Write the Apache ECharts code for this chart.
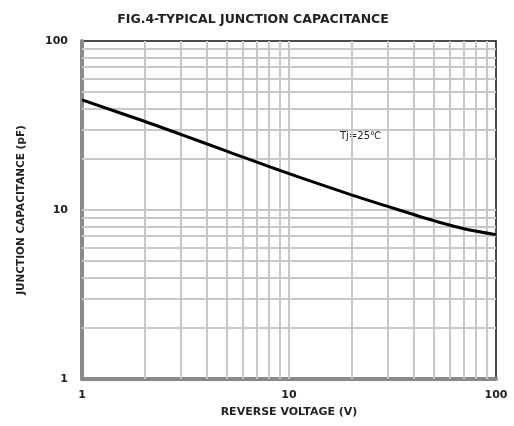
<!DOCTYPE html>
<html><head><meta charset="utf-8">
<script src="https://cdn.jsdelivr.net/npm/echarts@6/dist/echarts.min.js"></script>
<style>html,body{margin:0;padding:0;background:#fff}#c{width:514px;height:426px}</style>
</head><body><div id="c"></div>
<script>
const voltage = [1, 2, 3, 5, 10, 20, 30, 40, 50, 70, 100];
const capacitance = [44.8, 33.5, 28.0, 22.3, 16.4, 12.3, 10.5, 9.4, 8.65, 7.75, 7.15];
const gridX = [2,3,4,5,6,7,8,9,10,20,30,40,50,60,70,80,90];
const gridY = [2,3,4,5,6,7,8,9,10,20,30,40,50,60,70,80,90];
const axisLabels = ['1','10','100'];
const titleText = 'FIG.4-TYPICAL JUNCTION CAPACITANCE';
const xName = 'REVERSE VOLTAGE (V)';
const yName = 'JUNCTION CAPACITANCE (pF)';
const note = 'Tj=25\u2103';

const chart = echarts.init(document.getElementById('c'));
const gridColor = '#c8c8c8';
const F = '"DejaVu Sans"';
const lines = gridX.map(v => ({xAxis: v})).concat(gridY.map(v => ({yAxis: v})));
chart.setOption({
  animation: false,
  title: {text: titleText, left: 248, top: 8, textAlign: 'center',
    textStyle: {fontFamily: F, fontWeight: 'bold', fontSize: 12.5, color: '#222'}},
  grid: {left: 82, top: 41, right: 18, bottom: 47, show: true, borderColor: '#111', borderWidth: 1.5},
  xAxis: {type: 'log', logBase: 10, min: 1, max: 100,
    name: xName, nameLocation: 'middle', nameGap: 28,
    nameTextStyle: {fontFamily: F, fontWeight: 'bold', fontSize: 11, color: '#222'},
    axisLine: {show: true, lineStyle: {color: '#8a8a8a', width: 4}},
    axisTick: {show: false}, splitLine: {show: false},
    axisLabel: {margin: 11, fontFamily: F, fontWeight: 'bold', fontSize: 11, color: '#222',
      formatter: v => axisLabels.find(s => +s === v) || ''}},
  yAxis: {type: 'log', logBase: 10, min: 1, max: 100,
    name: yName, nameLocation: 'middle', nameGap: 55, nameRotate: 90,
    nameTextStyle: {fontFamily: F, fontWeight: 'bold', fontSize: 10.5, color: '#222'},
    axisLine: {show: true, lineStyle: {color: '#8a8a8a', width: 4}},
    axisTick: {show: false}, splitLine: {show: false},
    axisLabel: {margin: 14, fontFamily: F, fontWeight: 'bold', fontSize: 11, color: '#222',
      formatter: v => axisLabels.find(s => +s === v) || ''}},
  graphic: [{type: 'text', left: 340, top: 131,
    style: {text: note, font: '10px "DejaVu Sans"', fill: '#222'}}],
  series: [
    {type: 'line', data: [], silent: true,
      markLine: {silent: true, symbol: 'none', label: {show: false},
        lineStyle: {color: gridColor, width: 2, type: 'solid'}, data: lines}},
    {type: 'line', data: voltage.map((v, i) => [v, capacitance[i]]), smooth: 0.3,
      symbol: 'none', lineStyle: {color: '#000', width: 3}, z: 5}
  ]
});
</script></body></html>
